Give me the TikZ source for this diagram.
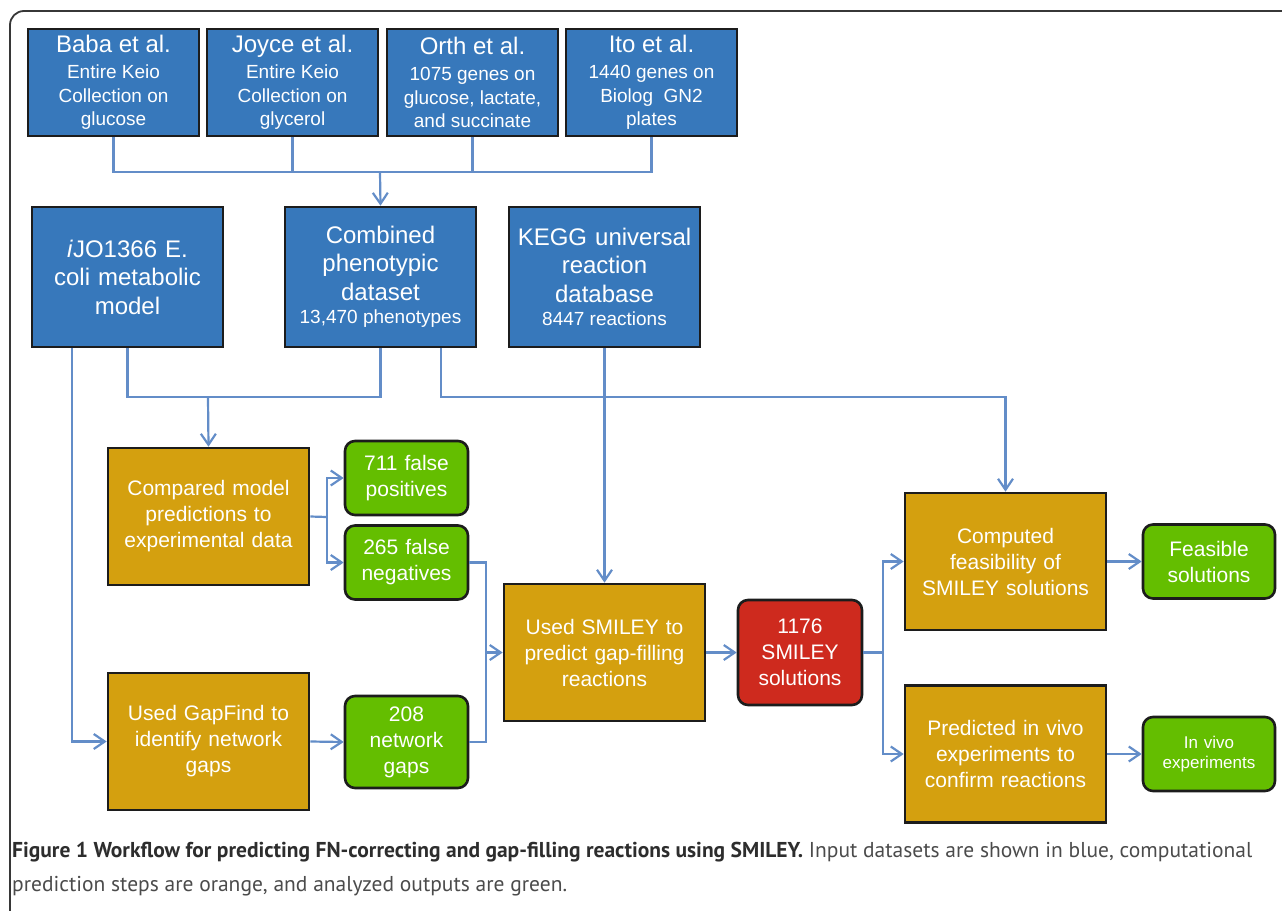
\documentclass[tikz,border=0pt]{standalone}
\usepackage{fontspec}
\setmainfont{Liberation Sans}
\newfontfamily\capfont{PT Sans}
\usetikzlibrary{arrows.meta}

\definecolor{srcblue}{RGB}{55,120,187}
\definecolor{calcorange}{RGB}{212,160,15}
\definecolor{outgreen}{RGB}{100,190,0}
\definecolor{hitred}{RGB}{206,42,30}
\definecolor{linkblue}{RGB}{99,141,200}
\definecolor{boxline}{RGB}{28,28,28}
\definecolor{framegray}{RGB}{55,55,55}
\definecolor{capdark}{RGB}{45,45,45}
\definecolor{capgray}{RGB}{75,75,75}

% two sizes of text inside one box
\newcommand{\boxtitle}[1]{{\fontsize{24}{26}\selectfont\spaceskip=\fontdimen2\font\relax #1\par}\vspace{3pt}}
\newcommand{\boxnote}[1]{{\fontsize{19}{23.5}\selectfont\spaceskip=\fontdimen2\font\relax #1\par}}

\begin{document}
\begin{tikzpicture}[
  x=1pt,
  y=-1pt,
  box/.style={
    rectangle,
    draw=boxline,
    line width=2.6pt,
    text=white,
    align=center,
    inner sep=0pt
  },
  source/.style={
    box,
    fill=srcblue,
    minimum width=171pt,
    minimum height=107pt,
    text width=168pt
  },
  dataset/.style={
    box,
    fill=srcblue,
    minimum width=191pt,
    minimum height=140pt,
    text width=186pt,
    font=\fontsize{24}{28.5}\selectfont
  },
  calc/.style={
    box,
    fill=calcorange,
    minimum width=201pt,
    minimum height=137pt,
    text width=196pt,
    font=\fontsize{21}{26}\selectfont
  },
  outcome/.style={
    box,
    fill=outgreen,
    rounded corners=10pt,
    minimum width=123pt,
    minimum height=74pt,
    text width=120pt,
    font=\fontsize{21}{26}\selectfont
  },
  hits/.style={outcome, fill=hitred, minimum width=124pt, minimum height=105pt},
  link/.style={draw=linkblue, line width=2.2pt},
  flow/.style={link, -{Straight Barb[length=11pt,width=15pt]}},
  frame/.style={draw=framegray, line width=1.8pt, rounded corners=14pt},
  caption/.style={anchor=base west, inner sep=0pt, font=\capfont\fontsize{21.5}{26}\selectfont}
]

\useasboundingbox (0,0) rectangle (1282,910);
\path[frame] (10,912) -- (10,11) -- (1284,11);

% Published screens.
\node[source] (baba) at (113.5,82.5)
  {\boxtitle{Baba et al.}\boxnote{Entire Keio\\ Collection on\\ glucose}};
\node[source] (joyce) at (292.5,82.5)
  {\boxtitle{Joyce et al.}\boxnote{Entire Keio\\ Collection on\\ glycerol}};
\node[source] (orth) at (472.5,82.5)
  {\boxtitle{Orth et al.}\boxnote{1075 genes on\\ glucose, lactate,\\ and succinate}};
\node[source] (ito) at (651.5,82.5)
  {\boxtitle{Ito et al.}\boxnote{1440 genes on\\ Biolog\ \ GN2\\ plates}};

\node[dataset] (ijo) at (127.5,277) {\textit{i}JO1366 E.\\ coli metabolic\\ model};
\node[dataset] (comb) at (380.5,277)
  {Combined\\ phenotypic\\ dataset\par\boxnote{13,470 phenotypes}};
\node[dataset] (kegg) at (604.5,277)
  {KEGG universal\\ reaction\\ database\par\boxnote{8447 reactions}};

\node[calc] (compare) at (208.5,516.5) {Compared model\\ predictions to\\ experimental data};
\node[calc] (gapfind) at (208.5,741.5) {Used GapFind to\\ identify network\\ gaps};
\node[calc] (smiley) at (604.5,652.5) {Used SMILEY to\\ predict gap-filling\\ reactions};
\node[calc] (feascalc) at (1005.5,561.5) {Computed\\ feasibility of\\ SMILEY solutions};
\node[calc] (vivocalc) at (1005.5,754) {Predicted in vivo\\ experiments to\\ confirm reactions};

\node[outcome] (falsepos) at (406.5,478) {711 false\\ positives};
\node[outcome] (falseneg) at (406.5,562.5) {265 false\\ negatives};
\node[outcome, minimum height=92pt] (netgaps) at (406.5,742) {208\\ network\\ gaps};
\node[hits] (solutions) at (800,652.5) {1176\\ SMILEY\\ solutions};
\node[outcome, minimum width=132pt] (feasible) at (1209,561.5) {Feasible\\ solutions};
\node[outcome, minimum width=132pt, font=\fontsize{17}{20}\selectfont] (invivo) at (1209,754)
  {In vivo\\ experiments};

% Junction points.
\coordinate (topbus) at (380,172);
\coordinate (midbus) at (208,397);
\coordinate (cmpfork) at (327,517);
\coordinate (gapfork) at (486,652.5);
\coordinate (solfork) at (883,652.5);

\draw[link] (baba.south) |- (topbus) -| (ito.south);
\draw[link] (joyce.south) -- (joyce.south |- topbus);
\draw[link] (orth.south) -- (orth.south |- topbus);
\draw[flow] (topbus) -- (comb.north);

\draw[link] (ijo.south) |- (midbus) -| (comb.south);
\draw[flow] (midbus) -- (compare.north);
\draw[flow] ([xshift=-55.5pt]ijo.south) |- (gapfind.west);
\draw[flow] ([xshift=60.5pt]comb.south) |- (feascalc.north |- midbus) -- (feascalc.north);
\draw[flow] (kegg.south) -- (smiley.north);

\draw[link] (compare.east) -- (cmpfork);
\draw[flow] (cmpfork) |- (falsepos.west);
\draw[flow] (cmpfork) |- (falseneg.west);
\draw[flow] (gapfind.east) -- (netgaps.west);

\draw[link] (falseneg.east) -| (gapfork) |- (netgaps.east);
\draw[flow] (gapfork) -- (smiley.west);
\draw[flow] (smiley.east) -- (solutions.west);

\draw[link] (solutions.east) -- (solfork);
\draw[flow] (solfork) |- (feascalc.west);
\draw[flow] (solfork) |- (vivocalc.west);
\draw[flow] (feascalc.east) -- (feasible.west);
\draw[flow] (vivocalc.east) -- (invivo.west);

% Caption.
\node[caption, text=capdark] (capline1) at (12,857)
  {{\bfseries Figure 1 Workflow for predicting FN-correcting and gap-filling reactions using SMILEY.}\ {\color{capgray}Input datasets are shown in blue, computational}};
\node[caption, text=capgray] (capline2) at (12,891)
  {prediction steps are orange, and analyzed outputs are green.};

\end{tikzpicture}
\end{document}
